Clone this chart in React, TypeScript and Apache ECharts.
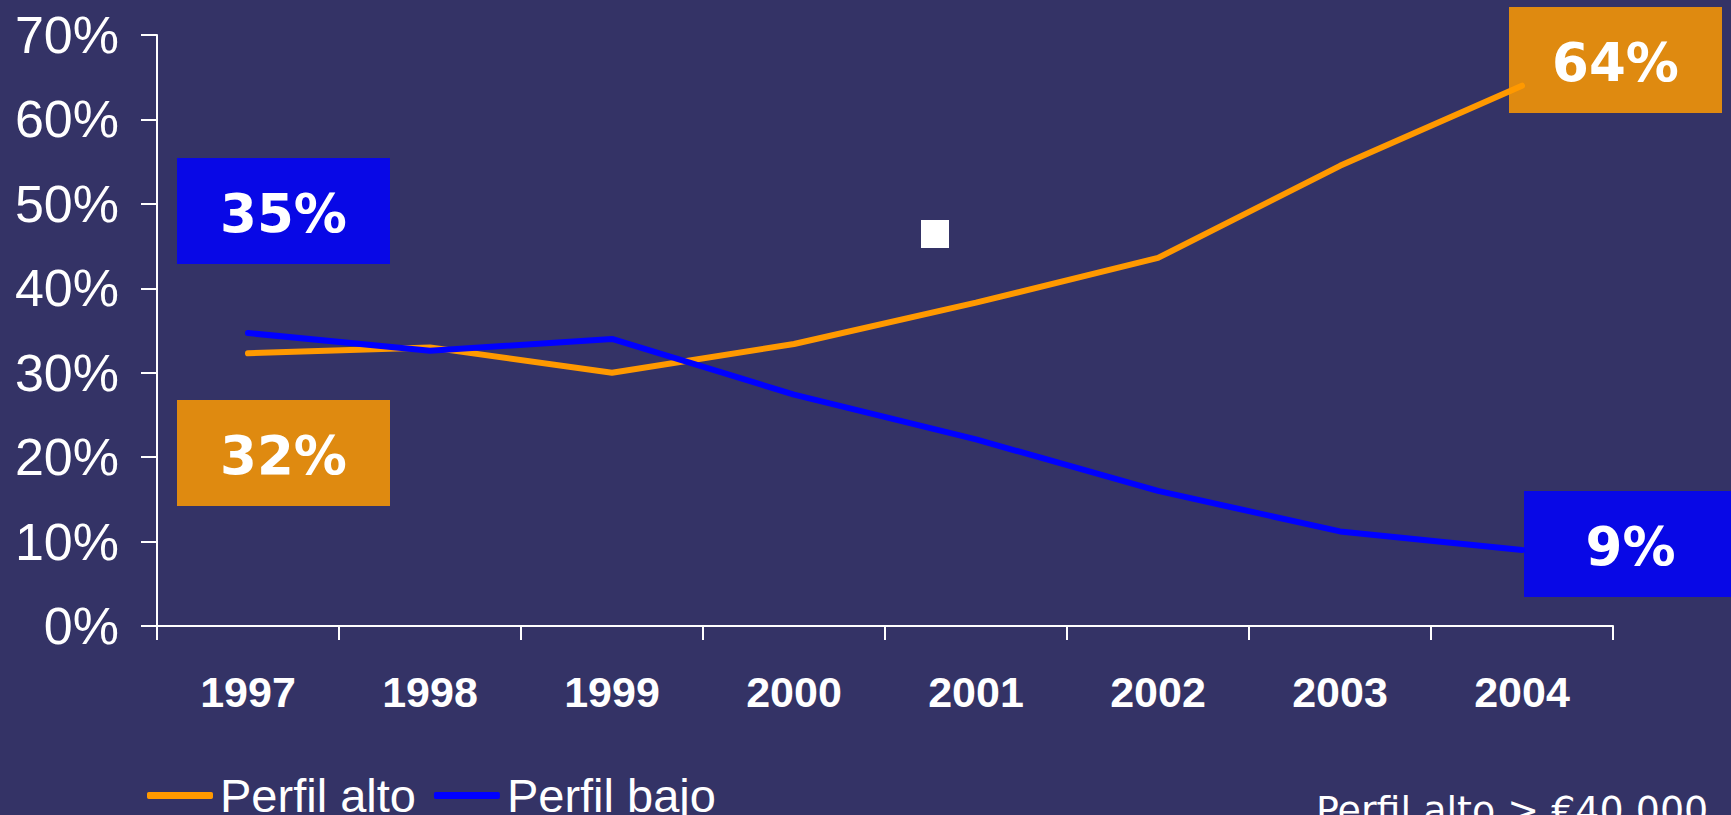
import React, { useEffect, useRef } from 'react';
import * as echarts from 'echarts';

const years = ['1997', '1998', '1999', '2000', '2001', '2002', '2003', '2004'];
const perfilAlto = [32.3, 33.0, 30.0, 33.4, 38.3, 43.6, 54.5, 64.0];
const perfilBajo = [34.7, 32.6, 34.0, 27.4, 22.1, 16.0, 11.2, 9.0];
const seriesNames = ['Perfil alto', 'Perfil bajo'];
const yMin = 0;
const yMax = 70;
const yInterval = 10;
const footnote = 'Perfil alto > €40.000';

const BG = '#343366';
const ORANGE_LINE = '#FF9900';
const BLUE_LINE = '#0000FF';
const ORANGE_BOX = '#DF8A10';
const BLUE_BOX = '#0808E6';

const pct = (v: number) => `${Math.round(v)}%`;

export default function App() {
  const ref = useRef<HTMLDivElement>(null);

  useEffect(() => {
    if (!ref.current) return;
    const chart = echarts.init(ref.current, undefined, { renderer: 'svg' });

    const boxW = 213;
    const boxH = 106;
    const boxFont = { fontFamily: '"DejaVu Sans", Verdana, sans-serif', fontWeight: 'bold', fontSize: 53 };
    const makeBox = (x: number, y: number, color: string, label: string) => [
      { type: 'rect', x, y, z: 1, shape: { width: boxW, height: boxH }, style: { fill: color } },
      {
        type: 'text',
        x: x + boxW / 2,
        y: y + boxH / 2 + 2,
        z: 100,
        style: { text: label, fill: '#ffffff', align: 'center', verticalAlign: 'middle', ...boxFont },
      },
    ];

    chart.setOption({
      animation: false,
      backgroundColor: BG,
      grid: { left: 157, top: 35, width: 1456, bottom: 189, containLabel: false },
      legend: {
        left: 142,
        top: 767,
        itemWidth: 66,
        itemHeight: 7,
        itemGap: 18,
        icon: 'roundRect',
        data: seriesNames,
        textStyle: {
          color: '#ffffff',
          fontSize: 47,
          fontFamily: '"Liberation Sans", Arial, sans-serif',
          padding: [0, 0, 0, 2],
        },
      },
      xAxis: {
        type: 'category',
        data: years,
        boundaryGap: true,
        axisLine: { show: true, lineStyle: { color: '#ffffff', width: 2 } },
        axisTick: { show: true, length: 14, alignWithLabel: false, lineStyle: { color: '#ffffff', width: 2 } },
        axisLabel: {
          color: '#ffffff',
          fontSize: 43,
          fontWeight: 'bold',
          fontFamily: '"Liberation Sans", Arial, sans-serif',
          margin: 44,
        },
        splitLine: { show: false },
      },
      yAxis: {
        type: 'value',
        min: yMin,
        max: yMax,
        interval: yInterval,
        axisLine: { show: true, lineStyle: { color: '#ffffff', width: 2 } },
        axisTick: { show: true, length: 16, lineStyle: { color: '#ffffff', width: 2 } },
        axisLabel: {
          color: '#ffffff',
          fontSize: 52,
          fontFamily: '"Liberation Sans", Arial, sans-serif',
          margin: 38,
          formatter: '{value}%',
        },
        splitLine: { show: false },
      },
      series: [
        {
          name: seriesNames[0],
          type: 'line',
          data: perfilAlto,
          symbol: 'none',
          itemStyle: { color: ORANGE_LINE },
          lineStyle: { color: ORANGE_LINE, width: 6, cap: 'round' },
          z: 2,
        },
        {
          name: seriesNames[1],
          type: 'line',
          data: perfilBajo,
          symbol: 'none',
          itemStyle: { color: BLUE_LINE },
          lineStyle: { color: BLUE_LINE, width: 6, cap: 'round' },
          z: 3,
        },
      ],
      graphic: [
        ...makeBox(177, 158, BLUE_BOX, pct(perfilBajo[0])),
        ...makeBox(177, 400, ORANGE_BOX, pct(perfilAlto[0])),
        ...makeBox(1509, 7, ORANGE_BOX, pct(perfilAlto[perfilAlto.length - 1])),
        ...makeBox(1524, 491, BLUE_BOX, pct(perfilBajo[perfilBajo.length - 1])),
        { type: 'rect', x: 921, y: 220, z: 5, shape: { width: 28, height: 28 }, style: { fill: '#ffffff' } },
        {
          type: 'text',
          x: 1316,
          y: 810,
          z: 5,
          style: {
            text: footnote,
            fill: '#ffffff',
            fontSize: 38,
            fontFamily: '"DejaVu Sans", Verdana, sans-serif',
            align: 'left',
            verticalAlign: 'middle',
          },
        },
      ],
    });

    return () => chart.dispose();
  }, []);

  return (
    <div
      ref={ref}
      style={{ position: 'absolute', left: 0, top: 0, width: 1731, height: 815, background: BG }}
    />
  );
}
